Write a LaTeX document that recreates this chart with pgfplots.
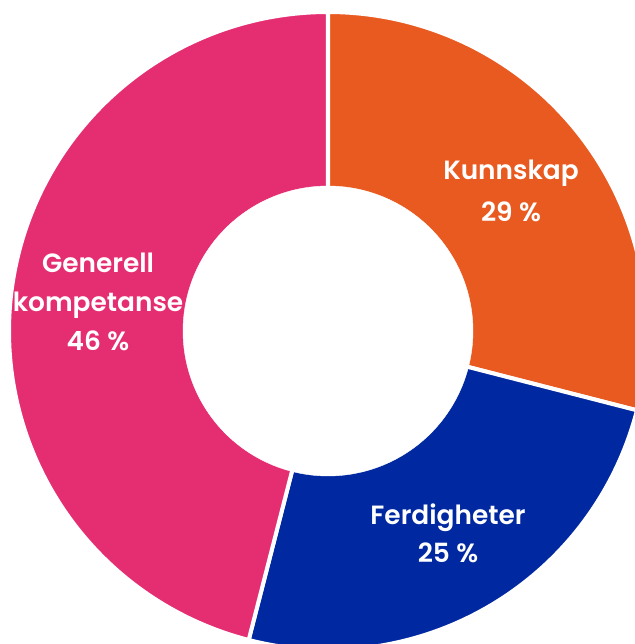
\documentclass[border=0pt]{standalone}
\usepackage{fontspec}
\setmainfont{Poppins}[BoldFont=Poppins SemiBold]
\usepackage{pgfplots}
\pgfplotsset{compat=1.18}
\definecolor{cOrange}{HTML}{E95A21}
\definecolor{cBlue}{HTML}{0028A0}
\definecolor{cPink}{HTML}{E52E72}
% shares (percent): Kunnskap 29, Ferdigheter 25, Generell kompetanse 46
\def\Ro{319}
\def\Ri{145}
\begin{document}
\begin{tikzpicture}
\begin{axis}[
  scale only axis, width=635bp, height=644bp,
  xmin=-328, xmax=307, ymin=-313, ymax=331,
  hide axis, clip=true,
]
% Kunnskap 29 % : from 90 deg clockwise 104.4 deg
\addplot[fill=cOrange, draw=white, line width=4bp, domain=90:-14.4, samples=120]
  ({\Ro*cos(x)},{\Ro*sin(x)}) -- (axis cs:0,0) -- cycle;
% Ferdigheter 25 %
\addplot[fill=cBlue, draw=white, line width=4bp, domain=-14.4:-104.4, samples=120]
  ({\Ro*cos(x)},{\Ro*sin(x)}) -- (axis cs:0,0) -- cycle;
% Generell kompetanse 46 %
\addplot[fill=cPink, draw=white, line width=4bp, domain=-104.4:-270, samples=200]
  ({\Ro*cos(x)},{\Ro*sin(x)}) -- (axis cs:0,0) -- cycle;
% hole
\addplot[fill=white, draw=white, domain=0:360, samples=200]
  ({\Ri*cos(x)},{\Ri*sin(x)}) -- cycle;
\node[text=white, font=\fontsize{26.5}{42}\selectfont\bfseries, align=center] at (axis cs:183,140) {Kunnskap\\29\ \%};
\node[text=white, font=\fontsize{26.5}{38}\selectfont\bfseries, align=center] at (axis cs:120,-202) {Ferdigheter\\25\ \%};
\node[text=white, font=\fontsize{26.5}{39}\selectfont\bfseries, align=center] at (axis cs:-230,29) {Generell\\kompetanse\\46\ \%};
\end{axis}
\pgfresetboundingbox
\path (current axis.south west) rectangle (current axis.north east);
\end{tikzpicture}
\end{document}
